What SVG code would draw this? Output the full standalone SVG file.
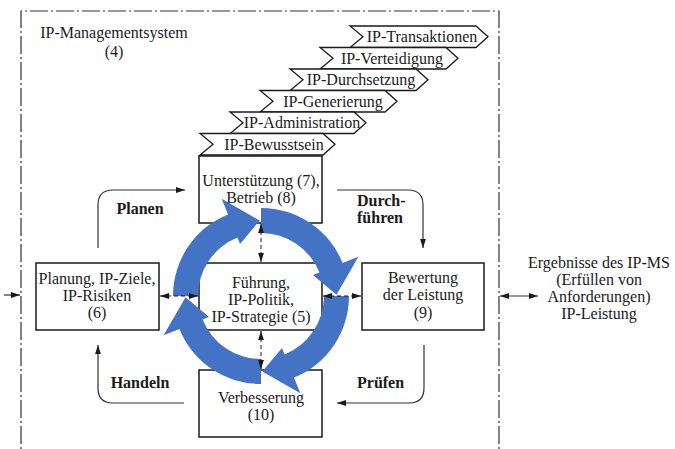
<svg xmlns="http://www.w3.org/2000/svg" width="675" height="449" viewBox="0 0 675 449">
<style>
text{font-family:"Liberation Serif","Times New Roman",serif;font-size:16px;fill:#1a1a1a;text-anchor:middle}
.b{font-weight:bold}
.l{text-anchor:start}
.box{fill:#fff;stroke:#1a1a1a;stroke-width:1.5}
.chev{fill:#fff;stroke:#1a1a1a;stroke-width:1.3}
.frame{fill:none;stroke:#333;stroke-width:1.2;stroke-dasharray:18 3 2 3}
.flow{fill:none;stroke:#333;stroke-width:1.2}
.dash{fill:none;stroke:#1a1a1a;stroke-width:1;stroke-dasharray:4 3}
.cyc{fill:#4472C4}
</style>
<defs>
<marker id="ah" viewBox="0 0 10 10" refX="10" refY="5" markerWidth="9" markerHeight="9" markerUnits="userSpaceOnUse" orient="auto-start-reverse">
<path d="M0,1.8 L10,5 L0,8.2 z" fill="#1a1a1a"/>
</marker>
<path id="carc" d="M0,-88 A88,88 0 0 1 81.59,-32.96 L97.36,-39.33 L75.49,-1.32 L51.92,-20.98 L58.41,-23.6 A63,63 0 0 0 0,-63 Z"/>
</defs>
<rect width="675" height="449" fill="#fff"/>

<g id="frame">
<path class="frame" d="M21,470 V11 H499 V470"/>
<text x="114" y="38">IP-Managementsystem</text>
<text x="114" y="57">(4)</text>
</g>

<g id="chevrons">
<g id="c-transaktionen"><polygon class="chev" points="350,26 476,26 488,36.75 476,47.5 350,47.5 363,36.75"/><text x="422" y="42">IP-Transaktionen</text></g>
<g id="c-verteidigung"><polygon class="chev" points="320,47.5 446,47.5 458,58.25 446,69 320,69 333,58.25"/><text x="392" y="63.5">IP-Verteidigung</text></g>
<g id="c-durchsetzung"><polygon class="chev" points="290,69 416,69 428,79.75 416,90.5 290,90.5 303,79.75"/><text x="361" y="85">IP-Durchsetzung</text></g>
<g id="c-generierung"><polygon class="chev" points="260,90.5 385,90.5 397,101.25 385,112 260,112 273,101.25"/><text x="333" y="106.5">IP-Generierung</text></g>
<g id="c-administration"><polygon class="chev" points="230,112 354,112 366,122.75 354,133.5 230,133.5 243,122.75"/><text x="302" y="128">IP-Administration</text></g>
<g id="c-bewusstsein"><polygon class="chev" points="200,133.5 323,133.5 335,144.25 323,155 200,155 213,144.25"/><text x="274" y="149.5">IP-Bewusstsein</text></g>
</g>

<g id="n-unterstuetzung">
<rect class="box" x="199" y="156" width="123" height="67"/>
<text x="261" y="186">Unterstützung (7),</text>
<text x="261" y="203">Betrieb (8)</text>
</g>
<g id="n-fuehrung">
<rect class="box" x="199" y="263" width="123" height="67"/>
<text x="261" y="288">Führung,</text>
<text x="261" y="305">IP-Politik,</text>
<text x="261" y="322">IP-Strategie (5)</text>
</g>
<g id="n-planung">
<rect class="box" x="36" y="263" width="123" height="67"/>
<text x="97" y="284">Planung, IP-Ziele,</text>
<text x="97" y="301">IP-Risiken</text>
<text x="97" y="318">(6)</text>
</g>
<g id="n-bewertung">
<rect class="box" x="362" y="263" width="122" height="67"/>
<text x="423" y="283">Bewertung</text>
<text x="423" y="300">der Leistung</text>
<text x="423" y="318">(9)</text>
</g>
<g id="n-verbesserung">
<rect class="box" x="199" y="370" width="123" height="67"/>
<text x="261" y="403">Verbesserung</text>
<text x="261" y="420">(10)</text>
</g>

<g id="n-ergebnisse">
<text x="599" y="268">Ergebnisse des IP-MS</text>
<text x="599" y="285">(Erfüllen von</text>
<text x="599" y="302">Anforderungen)</text>
<text x="599" y="319">IP-Leistung</text>
</g>

<g id="cycle">
<use href="#carc" class="cyc" transform="translate(261,296)"/>
<use href="#carc" class="cyc" transform="translate(261,296) rotate(90)"/>
<use href="#carc" class="cyc" transform="translate(261,296) rotate(180)"/>
<use href="#carc" class="cyc" transform="translate(261,296) rotate(270)"/>
</g>

<g id="connectors">
<path class="flow" d="M98,248 V205 Q98,190 113,190 H185" marker-end="url(#ah)"/>
<path class="flow" d="M337,190 H408 Q423,190 423,205 V248" marker-end="url(#ah)"/>
<path class="flow" d="M424,345 V388 Q424,403 409,403 H337" marker-end="url(#ah)"/>
<path class="flow" d="M184,403 H113 Q98,403 98,388 V345" marker-end="url(#ah)"/>
<path class="dash" d="M261,224 V262" marker-start="url(#ah)" marker-end="url(#ah)"/>
<path class="dash" d="M261,331 V369" marker-start="url(#ah)" marker-end="url(#ah)"/>
<path class="dash" d="M160,296 H198" marker-start="url(#ah)" marker-end="url(#ah)"/>
<path class="dash" d="M323,296 H361" marker-start="url(#ah)" marker-end="url(#ah)"/>
<path class="flow" d="M4,295 H20" marker-end="url(#ah)"/>
<path class="flow" d="M500,296 H538" marker-start="url(#ah)" marker-end="url(#ah)"/>
</g>

<g id="labels">
<text class="b" x="140" y="214">Planen</text>
<text class="b l" x="357" y="206">Durch-</text>
<text class="b l" x="357" y="223">führen</text>
<text class="b" x="140" y="388">Handeln</text>
<text class="b l" x="357" y="388">Prüfen</text>
</g>
</svg>
